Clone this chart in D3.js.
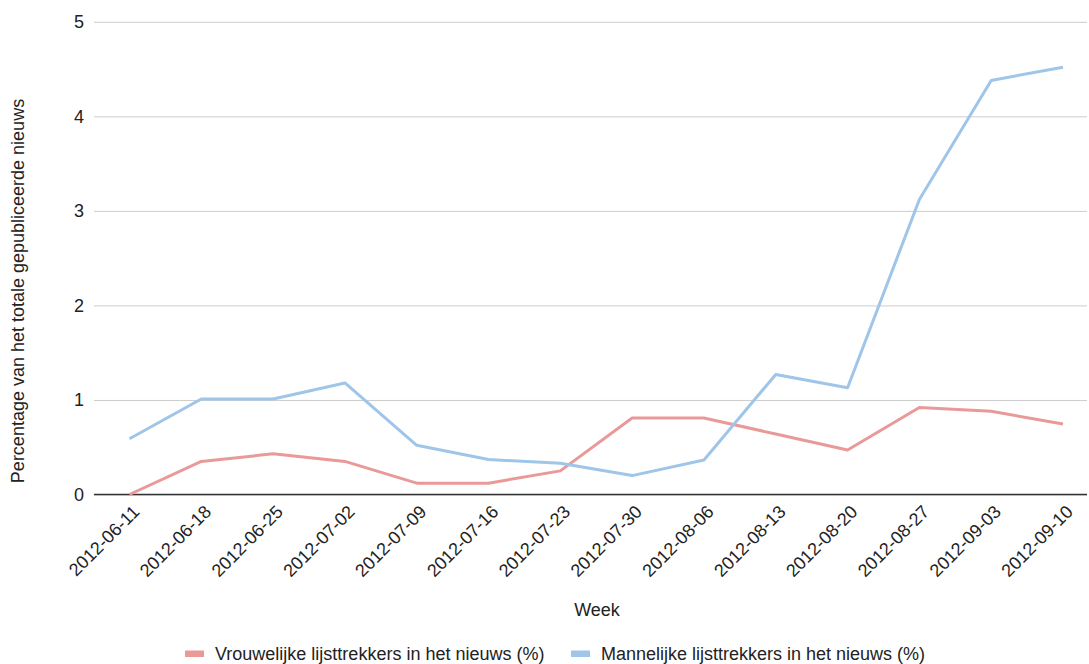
<!DOCTYPE html>
<html>
<head>
<meta charset="utf-8">
<script src="https://cdn.jsdelivr.net/npm/d3@7"></script>
<style>
  body { margin: 0; background: #fff; }
  svg { font-family: "Liberation Sans", Arial, sans-serif; }
</style>
</head>
<body>
<svg id="chart" width="1089" height="664"></svg>
<script>
const weeks = ['2012-06-11', '2012-06-18', '2012-06-25', '2012-07-02', '2012-07-09', '2012-07-16', '2012-07-23',
               '2012-07-30', '2012-08-06', '2012-08-13', '2012-08-20', '2012-08-27', '2012-09-03', '2012-09-10'];
const vrouwen = [0, 0.35, 0.43, 0.35, 0.12, 0.12, 0.25, 0.81, 0.81, 0.64, 0.47, 0.92, 0.88, 0.745];
const mannen = [0.59, 1.01, 1.01, 1.18, 0.52, 0.37, 0.33, 0.20, 0.365, 1.27, 1.13, 3.12, 4.38, 4.52];
const yTicks = [0, 1, 2, 3, 4, 5];
const seriesNames = ['Vrouwelijke lijsttrekkers in het nieuws (%)', 'Mannelijke lijsttrekkers in het nieuws (%)'];
const colors = ['#ea9999', '#9fc5e8'];

const svg = d3.select('#chart');
const LEFT = 94, RIGHT = 1087, TOP = 21.8, BOTTOM = 494.5;

const x = d3.scalePoint().domain(weeks).range([129.5, 1063]);
const y = d3.scaleLinear().domain([0, 5]).range([BOTTOM, TOP]);

// gridlines
const yAxis = d3.axisLeft(y).tickValues(yTicks).tickSize(-(RIGHT - LEFT)).tickPadding(10).tickFormat(d3.format('d'));
const gy = svg.append('g').attr('transform', 'translate(' + LEFT + ',0)').call(yAxis);
gy.select('.domain').remove();
gy.selectAll('.tick line').attr('stroke', '#cccccc').attr('stroke-width', 1);
gy.selectAll('.tick text').attr('font-size', 18).attr('fill', '#222').attr('font-family', '"Liberation Sans", Arial, sans-serif');

// zero line
svg.append('line')
    .attr('x1', LEFT).attr('x2', RIGHT)
    .attr('y1', y(0)).attr('y2', y(0))
    .attr('stroke', '#333').attr('stroke-width', 1.5);

// x axis labels
const xAxis = d3.axisBottom(x).tickSize(0).tickPadding(0);
const gx = svg.append('g').attr('transform', 'translate(0,' + BOTTOM + ')').call(xAxis);
gx.select('.domain').remove();
gx.selectAll('.tick text')
    .attr('font-size', 18)
    .attr('font-family', '"Liberation Sans", Arial, sans-serif')
    .attr('fill', '#222')
    .attr('text-anchor', 'end')
    .attr('dy', '0.35em')
    .attr('transform', 'translate(6,14) rotate(-45)');

// lines
const line = d3.line().x((d, i) => x(weeks[i])).y(d => y(d));
[vrouwen, mannen].forEach((s, k) => {
    svg.append('path')
        .datum(s)
        .attr('d', line)
        .attr('fill', 'none')
        .attr('stroke', colors[k])
        .attr('stroke-width', 3)
        .attr('stroke-linejoin', 'round');
});

// axis titles
svg.append('text')
    .attr('transform', 'rotate(-90)')
    .attr('x', -291)
    .attr('y', 24)
    .attr('text-anchor', 'middle')
    .attr('font-size', 18)
    .attr('fill', '#222')
    .text('Percentage van het totale gepubliceerde nieuws');

svg.append('text')
    .attr('x', 597)
    .attr('y', 616)
    .attr('text-anchor', 'middle')
    .attr('font-size', 18)
    .attr('fill', '#222')
    .text('Week');

// legend
const legendX = [185, 571];
seriesNames.forEach((name, k) => {
    const g = svg.append('g').attr('transform', 'translate(' + legendX[k] + ',654)');
    g.append('rect').attr('x', 0).attr('y', -3.5).attr('width', 19).attr('height', 6.5).attr('fill', colors[k]);
    g.append('text').attr('x', 30).attr('y', 0).attr('dy', '0.35em')
        .attr('font-size', 18).attr('fill', '#222').text(name);
});
</script>
</body>
</html>
